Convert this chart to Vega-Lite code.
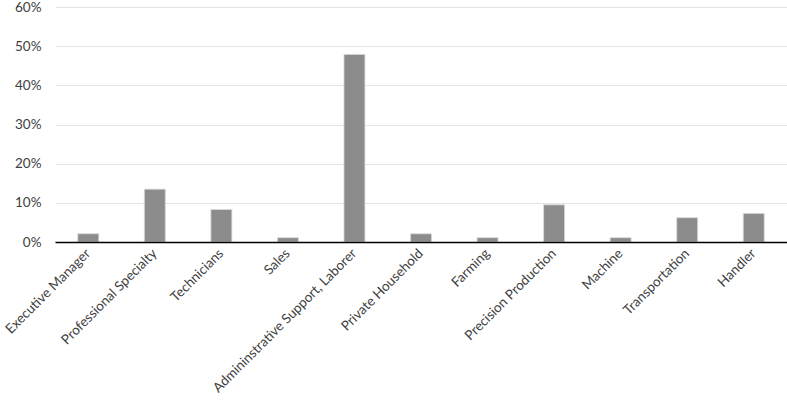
{
  "$schema": "https://vega.github.io/schema/vega-lite/v6.json",
  "width": 732,
  "height": 235,
  "autosize": {"type": "none"},
  "padding": {"left": 55, "top": 7, "right": 0, "bottom": 171},
  "background": "white",
  "config": {"view": {"stroke": null}, "font": "Lato"},
  "data": {
    "values": [
      {"occupation": "Executive Manager", "share": 0.021},
      {"occupation": "Professional Specialty", "share": 0.135},
      {"occupation": "Technicians", "share": 0.083},
      {"occupation": "Sales", "share": 0.011},
      {"occupation": "Admininstrative Support, Laborer", "share": 0.479},
      {"occupation": "Private Household", "share": 0.021},
      {"occupation": "Farming", "share": 0.011},
      {"occupation": "Precision Production", "share": 0.095},
      {"occupation": "Machine", "share": 0.011},
      {"occupation": "Transportation", "share": 0.062},
      {"occupation": "Handler", "share": 0.073}
    ]
  },
  "mark": {"type": "bar", "color": "#8c8c8c", "stroke": "#d9d9d9", "strokeWidth": 0.8},
  "encoding": {
    "x": {
      "field": "occupation",
      "type": "nominal",
      "sort": null,
      "scale": {"paddingInner": 0.685, "paddingOuter": 0.3425},
      "axis": {
        "title": null,
        "labelAngle": -45,
        "labelAlign": "right",
        "labelBaseline": "middle",
        "labelFontSize": 13.5,
        "labelColor": "#404040",
        "labelPadding": 9,
        "labelLimit": 300,
        "ticks": false,
        "domainColor": "#000000",
        "domainWidth": 1.5,
        "zindex": 1
      }
    },
    "y": {
      "field": "share",
      "type": "quantitative",
      "scale": {"domain": [0, 0.6], "nice": false},
      "axis": {
        "title": null,
        "format": ".0%",
        "values": [0, 0.1, 0.2, 0.3, 0.4, 0.5, 0.6],
        "labelFontSize": 13.5,
        "labelColor": "#404040",
        "labelPadding": 14,
        "ticks": false,
        "domain": false,
        "gridColor": "#e3e3e3",
        "gridWidth": 1.2
      }
    }
  }
}
